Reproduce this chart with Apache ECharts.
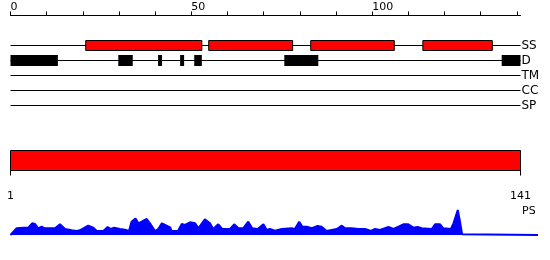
<!DOCTYPE html>
<html><head><meta charset="utf-8">
<script src="https://cdn.jsdelivr.net/npm/echarts@6/dist/echarts.min.js"></script>
<style>html,body{margin:0;padding:0;background:#fff}#c{width:550px;height:260px}</style>
</head><body><div id="c"></div>
<script>
// ---- data ----
const trackNames = ['SS', 'D', 'TM', 'CC', 'SP'];
const seqLength = 141;
const topTicks = [0, 10, 20, 30, 40, 50, 60, 70, 80, 90, 100, 110, 120, 130, 140];
const topTickLabels = [0, 50, 100];
const bottomTickLabels = [1, 141];
const ssSegments = [[20.8, 52.9], [54.8, 78.0], [83.0, 106.1], [114.0, 133.2]];
const dSegments = [[0, 13.1], [29.8, 33.8], [40.8, 41.9], [46.9, 48.0], [50.8, 52.9], [75.7, 85.1], [135.8, 141]];
const psName = 'PS';
const psProfile = [[0,0],[1.7,6.7],[2.1,7.3],[3.5,7.3],[4.0,6],[4.9,7.3],[6.0,11.7],[6.8,11],[7.7,6.7],[8.6,8.3],[9.5,6.7],[10.9,6.7],[12.3,6.7],[13.7,10.7],[15.1,6],[16.9,4.7],[18.3,4],[19.2,4.7],[21.5,9.3],[22.9,7.3],[23.9,4],[25.7,4],[26.9,8],[27.8,6],[28.7,7.3],[30.3,6],[31.7,5.3],[32.8,4],[33.5,13.3],[34.6,16.5],[35.4,11.7],[36.3,13.3],[37.7,16],[38.6,11.7],[40.0,4],[40.9,6],[41.9,11.7],[43.2,9.3],[44.2,7.7],[44.6,4],[46.4,4.3],[47.4,11],[48.3,10],[49.7,12.7],[51.1,11.7],[52.0,6.7],[53.8,15.7],[55.2,11.7],[56.1,6],[57.5,10.7],[58.6,6],[60.8,6],[61.9,10.7],[63.1,6.7],[64.4,6.7],[65.8,13.3],[66.9,6.7],[68.4,6],[70.0,10.7],[70.9,5],[71.8,6],[73.2,4.3],[75.1,6],[77.8,6.7],[78.7,6],[79.9,13.3],[80.8,8.3],[82.0,8.3],[83.4,6.7],[85.0,9],[86.1,8.3],[87.5,4],[88.9,5],[90.3,6],[91.7,9.3],[92.6,6.7],[94.4,6.7],[96.3,6],[98.1,6],[99.8,4],[100.9,6],[102.3,5],[104.6,8],[106.0,6],[107.4,8.3],[108.7,10.7],[110.1,10.7],[111.5,7.3],[112.7,8],[113.8,6.7],[116.6,6],[117.5,10.7],[118.9,10.7],[119.8,6.7],[121.9,6],[122.6,11.7],[123.8,25],[124.4,13.3],[125.0,0.7],[125.2,0],[146,0]];

// ---- chart ----
const FONT = 'DejaVu Sans';
const chart = echarts.init(document.getElementById('c'), null, {renderer: 'canvas'});

function segRenderer(h, fill, stroke) {
  return function (params, api) {
    const s = api.coord([api.value(0), api.value(2)]);
    const e = api.coord([api.value(1), api.value(2)]);
    return {
      type: 'rect',
      shape: {x: s[0], y: s[1] - h / 2, width: e[0] - s[0], height: h},
      style: {fill: fill, stroke: stroke, lineWidth: stroke ? 1 : 0}
    };
  };
}

const lineSeries = trackNames.map(function (name) {
  return {
    type: 'line', xAxisIndex: 0, yAxisIndex: 0, symbol: 'none', silent: true,
    data: [[0, name], [seqLength, name]],
    lineStyle: {color: '#000', width: 1}, z: 1
  };
});

chart.setOption({
  animation: false,
  textStyle: {fontFamily: FONT},
  grid: [
    {left: 10.5, right: 29.5, top: 38, height: 75, outerBoundsMode: 'none', containLabel: false},
    {left: 10.5, right: 29.5, top: 150.5, height: 20, outerBoundsMode: 'none', containLabel: false},
    {left: 10.5, right: 12, top: 210, height: 25, outerBoundsMode: 'none', containLabel: false}
  ],
  xAxis: [
    {
      gridIndex: 0, type: 'value', min: 0, max: seqLength, position: 'top', offset: 22.5,
      axisLine: {show: true, lineStyle: {color: '#000', width: 1}},
      axisTick: {show: true, length: 4, customValues: topTicks, lineStyle: {color: '#000'}},
      axisLabel: {show: true, customValues: topTickLabels, align: 'left', margin: 3,
        color: '#000', fontSize: 11, fontFamily: FONT},
      splitLine: {show: false}
    },
    {
      gridIndex: 1, type: 'value', min: 1, max: seqLength, position: 'bottom', offset: 10,
      axisLine: {show: true, lineStyle: {color: '#000', width: 1}},
      axisTick: {show: true, length: 5, customValues: bottomTickLabels, lineStyle: {color: '#000'}},
      axisLabel: {show: true, customValues: bottomTickLabels, align: 'center', margin: 10,
        color: '#000', fontSize: 11, fontFamily: FONT},
      splitLine: {show: false}
    },
    {
      gridIndex: 2, type: 'value', min: 0, max: 146, show: false
    }
  ],
  yAxis: [
    {
      gridIndex: 0, type: 'category', data: trackNames, inverse: true, position: 'right',
      axisLine: {show: false}, axisTick: {show: false},
      axisLabel: {show: true, interval: 0, hideOverlap: false, margin: 1, color: '#000', fontSize: 12, fontFamily: FONT},
      splitLine: {show: false}
    },
    {gridIndex: 1, type: 'value', min: 0, max: 1, show: false},
    {gridIndex: 2, type: 'value', min: 0, max: 25, show: false}
  ],
  graphic: [
    {type: 'text', left: 522, top: 206, style: {text: psName, fill: '#000', font: '11px "DejaVu Sans"'}}
  ],
  series: lineSeries.concat([
    {
      type: 'custom', xAxisIndex: 0, yAxisIndex: 0, z: 3, silent: true,
      renderItem: segRenderer(10, '#ff0000', '#000'),
      encode: {x: [0, 1], y: 2},
      data: ssSegments.map(function (s) { return [s[0], s[1], 'SS']; })
    },
    {
      type: 'custom', xAxisIndex: 0, yAxisIndex: 0, z: 3, silent: true,
      renderItem: segRenderer(11, '#000', null),
      encode: {x: [0, 1], y: 2},
      data: dSegments.map(function (s) { return [s[0], s[1], 'D']; })
    },
    {
      type: 'custom', xAxisIndex: 1, yAxisIndex: 1, silent: true,
      renderItem: function (params, api) {
        const a = api.coord([api.value(0), 1]);
        const b = api.coord([api.value(1), 0]);
        return {type: 'rect', shape: {x: a[0], y: a[1], width: b[0] - a[0], height: b[1] - a[1]},
          style: {fill: '#ff0000', stroke: '#000', lineWidth: 1}};
      },
      encode: {x: [0, 1]},
      data: [[1, seqLength]]
    },
    {
      type: 'line', xAxisIndex: 2, yAxisIndex: 2, symbol: 'none', silent: true,
      data: psProfile,
      lineStyle: {color: '#0000ff', width: 2},
      areaStyle: {color: '#0000ff', opacity: 1}
    }
  ])
});
</script>
</body></html>
